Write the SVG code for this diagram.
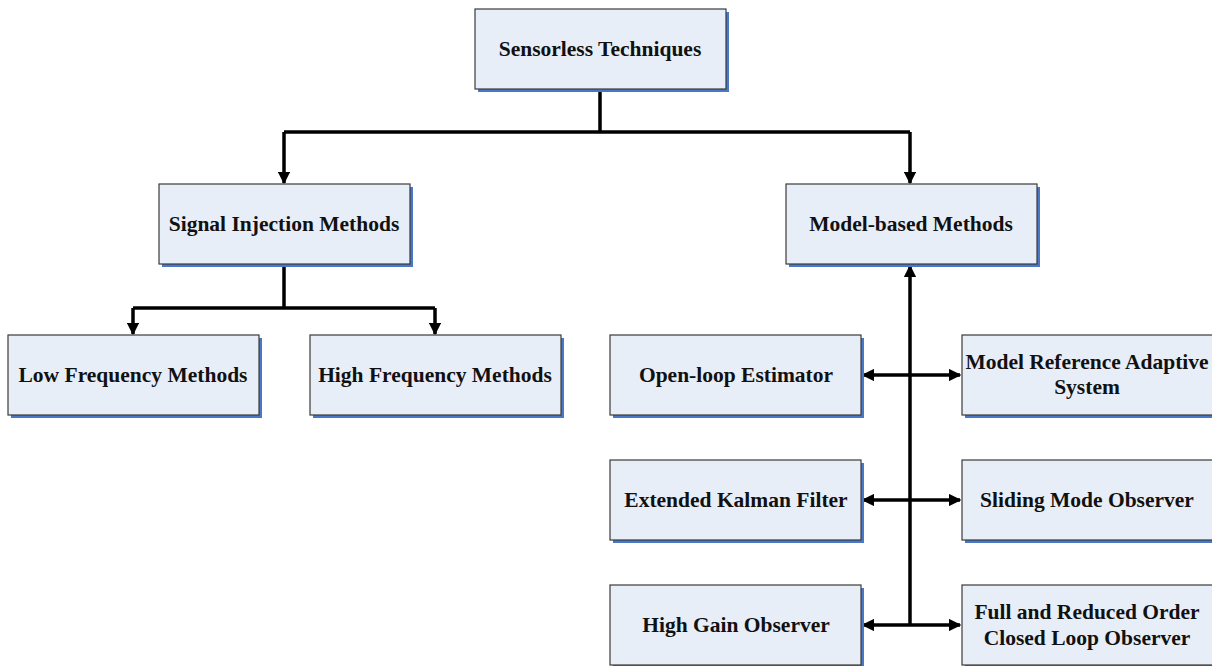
<svg xmlns="http://www.w3.org/2000/svg" width="1212" height="666" viewBox="0 0 1212 666">
<style>
.sh{fill:#4a78c8}
.bx{fill:#e8eef8;stroke:#3a3a3a;stroke-width:1.2}
.t{font-family:"Liberation Serif","Times New Roman",serif;font-weight:bold;font-size:21.5px;fill:#111;text-anchor:middle}
.c{stroke:#000;stroke-width:3.5;fill:none}
</style>
<defs>
<marker id="a" viewBox="0 0 10 10" refX="9" refY="5" markerWidth="3.6" markerHeight="3.6" orient="auto-start-reverse" markerUnits="strokeWidth">
<path d="M0,0 L10,5 L0,10 z" fill="#000"/>
</marker>
</defs>
<g id="connectors">
<path class="c" d="M600,89 V132"/>
<path class="c" d="M284,132 H910"/>
<path class="c" d="M284,132 V183" marker-end="url(#a)"/>
<path class="c" d="M910,132 V183" marker-end="url(#a)"/>
<path class="c" d="M284,264 V308"/>
<path class="c" d="M133,308 H435"/>
<path class="c" d="M133,308 V334" marker-end="url(#a)"/>
<path class="c" d="M435,308 V334" marker-end="url(#a)"/>
<path class="c" d="M910,625 V266" marker-end="url(#a)"/>
<path class="c" d="M863,375 H960" marker-start="url(#a)" marker-end="url(#a)"/>
<path class="c" d="M863,500 H960" marker-start="url(#a)" marker-end="url(#a)"/>
<path class="c" d="M910,625 H863" marker-end="url(#a)"/>
<path class="c" d="M910,625 H960" marker-end="url(#a)"/>
</g>
<g id="sensorless">
<rect class="sh" x="478" y="12" width="251" height="80"/>
<rect class="bx" x="475" y="9" width="251" height="80"/>
<text class="t" x="600" y="56">Sensorless Techniques</text>
</g>
<g id="signal">
<rect class="sh" x="162" y="187" width="251" height="80"/>
<rect class="bx" x="159" y="184" width="251" height="80"/>
<text class="t" x="284" y="231">Signal Injection Methods</text>
</g>
<g id="model">
<rect class="sh" x="789" y="187" width="251" height="80"/>
<rect class="bx" x="786" y="184" width="251" height="80"/>
<text class="t" x="911" y="231">Model-based Methods</text>
</g>
<g id="low">
<rect class="sh" x="11" y="338" width="251" height="80"/>
<rect class="bx" x="8" y="335" width="251" height="80"/>
<text class="t" x="133" y="382">Low Frequency Methods</text>
</g>
<g id="high">
<rect class="sh" x="313" y="338" width="251" height="80"/>
<rect class="bx" x="310" y="335" width="251" height="80"/>
<text class="t" x="435" y="382">High Frequency Methods</text>
</g>
<g id="openloop">
<rect class="sh" x="613" y="338" width="251" height="80"/>
<rect class="bx" x="610" y="335" width="251" height="80"/>
<text class="t" x="736" y="382">Open-loop Estimator</text>
</g>
<g id="mras">
<rect class="sh" x="965" y="338" width="251" height="80"/>
<rect class="bx" x="962" y="335" width="251" height="80"/>
<text class="t" x="1087" y="369">Model Reference Adaptive</text>
<text class="t" x="1087" y="394">System</text>
</g>
<g id="ekf">
<rect class="sh" x="613" y="463" width="251" height="80"/>
<rect class="bx" x="610" y="460" width="251" height="80"/>
<text class="t" x="736" y="507">Extended Kalman Filter</text>
</g>
<g id="smo">
<rect class="sh" x="965" y="463" width="251" height="80"/>
<rect class="bx" x="962" y="460" width="251" height="80"/>
<text class="t" x="1087" y="507">Sliding Mode Observer</text>
</g>
<g id="hgo">
<rect class="sh" x="613" y="588" width="251" height="80"/>
<rect class="bx" x="610" y="585" width="251" height="80"/>
<text class="t" x="736" y="632">High Gain Observer</text>
</g>
<g id="full">
<rect class="sh" x="965" y="588" width="251" height="80"/>
<rect class="bx" x="962" y="585" width="251" height="80"/>
<text class="t" x="1087" y="619">Full and Reduced Order</text>
<text class="t" x="1087" y="645">Closed Loop Observer</text>
</g>
</svg>
